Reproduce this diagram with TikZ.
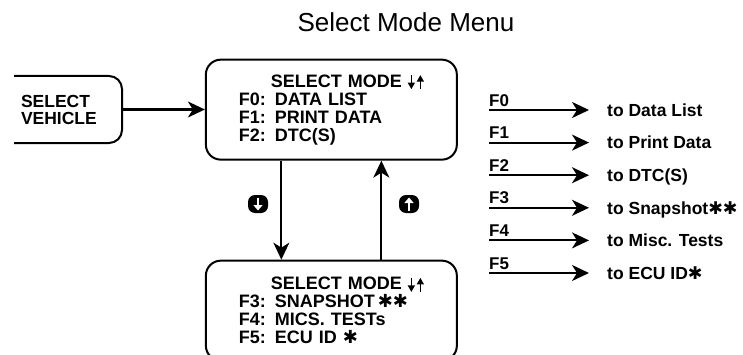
\documentclass[tikz,border=0pt]{standalone}
\usepackage{fontspec}
\setmainfont{Liberation Sans}
\newfontfamily\symfont{DejaVu Sans}
\usetikzlibrary{arrows.meta,positioning}
\newcommand{\hstar}{{\symfont\bfseries ✱}}
% small scroll arrows as printed on the screen
\newcommand{\scrollarrow}[1]{\tikz[baseline=0pt, x=1pt, y=1pt]
  \draw[line width=1.4pt, -{Triangle[length=6.5pt, width=7pt]}] #1;}
\newcommand{\updn}{\scrollarrow{(0,12) -- (0,-2)}\hspace{2pt}\scrollarrow{(0,-2) -- (0,12)}}
% white arrow on a black key
\newcommand{\keyarrow}[1]{\tikz[baseline=-3pt, x=1pt, y=1pt]
  \draw[white, line width=2.8pt, -{Triangle[length=5.5pt, width=9pt]}] #1;}

\begin{document}
\begin{tikzpicture}[
  x=1pt, y=1pt,
  frame/.style  = {draw, line width=2pt, rounded corners=#1},
  frame/.default = 15pt,
  menu/.style   = {frame, minimum width=251pt, minimum height=100pt,
                   inner xsep=33pt, text width=185pt, align=left,
                   font=\bfseries\fontsize{18}{18}\selectfont},
  arr/.style    = {-{Stealth[length=17pt, width=16pt, inset=5pt]}, line width=2pt},
  keycap/.style = {fill=black, rounded corners=7pt, minimum width=20pt,
                   minimum height=18pt, inner sep=0pt},
  keylbl/.style = {inner sep=0pt, font=\bfseries\fontsize{17}{17}\selectfont},
  dest/.style   = {inner xsep=0pt, text height=12.5pt, text depth=0pt,
                   font=\bfseries\fontsize{17.5}{17.5}\selectfont},
]
\useasboundingbox (0,0) rectangle (743,354);
\clip (14,0) rectangle (743,354);

%% ── TITLE ───────────────────────────────────────────────────────────────
\node[anchor=base, font=\fontsize{26}{26}\selectfont] (title) at (406,322) {Select Mode Menu};

%% ── MENU SCREENS ────────────────────────────────────────────────────────
\node[frame=13pt, anchor=east, minimum height=67pt, text width=80pt,
      inner xsep=21pt, align=left,
      font=\bfseries\fontsize{17.5}{17}\selectfont] (vehicle) at (123,244.5) {SELECT\\VEHICLE};
\node[menu] (topmenu) at (331.35,244.35)
  {\mbox{\hspace*{32pt}SELECT MODE \updn}\\F0: DATA LIST\\F1: PRINT DATA\\F2: DTC(S)};
\node[menu, below=99pt of topmenu] (botmenu)
  {\mbox{\hspace*{32pt}SELECT MODE \updn}\\F3: SNAPSHOT\,\hstar\hstar\\F4: MICS. TESTs\\F5: ECU ID \hstar};

%% ── FLOW ────────────────────────────────────────────────────────────────
\draw[arr] (vehicle) -- (vehicle -| topmenu.west);
\draw[arr] ([xshift=-50pt]topmenu.south) -- ([xshift=-50pt]botmenu.north);
\draw[arr] ([xshift=50pt]botmenu.north) -- ([xshift=50pt]topmenu.south);

\node[keycap] (dnkey) at (258,150) {\keyarrow{(0,6.5) -- (0,-6.5)}};
\node[keycap] (upkey) at (409,150) {\keyarrow{(0,-6.5) -- (0,6.5)}};

%% ── FUNCTION KEYS ───────────────────────────────────────────────────────
\coordinate (r0) at (489,244);
\coordinate[below=32.6pt of r0] (r1);
\coordinate[below=32.6pt of r1] (r2);
\coordinate[below=32.6pt of r2] (r3);
\coordinate[below=32.6pt of r3] (r4);
\coordinate[below=32.6pt of r4] (r5);

\node[keylbl, above right=3.5pt and 0pt of r0] (k0) {F0};
\node[keylbl, above right=3.5pt and 0pt of r1] (k1) {F1};
\node[keylbl, above right=3.5pt and 0pt of r2] (k2) {F2};
\node[keylbl, above right=3.5pt and 0pt of r3] (k3) {F3};
\node[keylbl, above right=3.5pt and 0pt of r4] (k4) {F4};
\node[keylbl, above right=3.5pt and 0pt of r5] (k5) {F5};

\node[dest, right=118pt of r0] (d0) {to Data List};
\node[dest, right=118pt of r1] (d1) {to Print Data};
\node[dest, right=118pt of r2] (d2) {to DTC(S)};
\node[dest, right=118pt of r3] (d3) {to Snapshot\hstar\hstar};
\node[dest, right=118pt of r4] (d4) {to Misc. Tests};
\node[dest, right=118pt of r5] (d5) {to ECU ID\hstar};

\draw[arr, shorten >=18pt] (r0) -- (d0.west);
\draw[arr, shorten >=18pt] (r1) -- (d1.west);
\draw[arr, shorten >=18pt] (r2) -- (d2.west);
\draw[arr, shorten >=18pt] (r3) -- (d3.west);
\draw[arr, shorten >=18pt] (r4) -- (d4.west);
\draw[arr, shorten >=18pt] (r5) -- (d5.west);

\end{tikzpicture}
\end{document}
